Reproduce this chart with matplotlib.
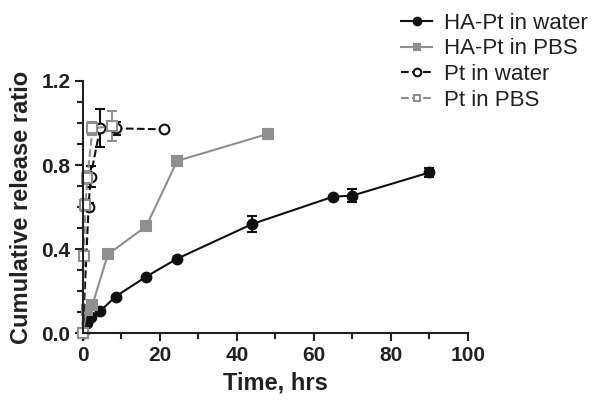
import matplotlib
matplotlib.use("Agg")
import matplotlib.pyplot as plt
from matplotlib.lines import Line2D
from matplotlib.ticker import MultipleLocator

plt.rcParams['font.family'] = ['Liberation Sans', 'DejaVu Sans']

# HA-Pt in water
ha_water_t = [0, 1, 2, 4.5, 8.5, 16.5, 24.5, 44, 65, 70, 90]
ha_water_y = [0.0, 0.05, 0.08, 0.105, 0.175, 0.27, 0.355, 0.52, 0.65, 0.655, 0.765]
ha_water_e = [0, 0, 0, 0, 0, 0, 0, 0.04, 0, 0.03, 0.02]

# HA-Pt in PBS
ha_pbs_t = [0, 1, 2.5, 6.5, 16.5, 24.5, 48]
ha_pbs_y = [0.0, 0.11, 0.135, 0.375, 0.51, 0.82, 0.948]
ha_pbs_e = [0, 0, 0, 0, 0, 0, 0.025]

# Pt in water
pt_water_t = [0, 1.5, 2, 4.5, 8.5, 21]
pt_water_y = [0.0, 0.6, 0.745, 0.975, 0.975, 0.97]
pt_water_e = [0, 0.02, 0.05, 0.09, 0.03, 0]

# Pt in PBS
pt_pbs_t = [0, 0.3, 0.7, 1.2, 2.5, 7.5]
pt_pbs_y = [0.0, 0.37, 0.61, 0.74, 0.975, 0.985]
pt_pbs_e = [0, 0.02, 0.03, 0.03, 0.03, 0.07]

labels = ['HA-Pt in water', 'HA-Pt in PBS', 'Pt in water', 'Pt in PBS']

black = "#111111"
grey = "#8f8f8f"

fig = plt.figure(figsize=(6, 4.09), dpi=100)
ax = fig.add_axes([0.138, 0.185, 0.642, 0.617])

styles = [
    dict(color=black, marker='o', ms=7, mfc=black, ls='-'),
    dict(color=grey, marker='s', ms=6.5, mfc=grey, ls='-'),
    dict(color=black, marker='o', ms=7, mfc='white', ls='--'),
    dict(color=grey, marker='s', ms=6.5, mfc='white', ls='--'),
]
series = [(ha_water_t, ha_water_y, ha_water_e), (ha_pbs_t, ha_pbs_y, ha_pbs_e),
          (pt_water_t, pt_water_y, pt_water_e), (pt_pbs_t, pt_pbs_y, pt_pbs_e)]

for (t, y, e), st in zip(series, styles):
    c = ax.errorbar(t, y, yerr=e, color=st['color'], marker=st['marker'], ms=st['ms'],
                    mfc=st['mfc'], mew=1.5, lw=1.5, ls=st['ls'], capsize=3.5,
                    capthick=1.5, clip_on=False)
    for art in c.lines[0:1] + tuple(c.lines[1]) + tuple(c.lines[2]):
        art.set_clip_on(False)

ax.set_xlim(0, 100)
ax.set_ylim(0, 1.2)
ax.set_xticks([0, 20, 40, 60, 80, 100])
ax.set_yticks([0.0, 0.4, 0.8, 1.2])
ax.set_yticklabels(['0.0', '0.4', '0.8', '1.2'])
ax.xaxis.set_minor_locator(MultipleLocator(10))
ax.yaxis.set_minor_locator(MultipleLocator(0.1))
ax.spines['top'].set_visible(False)
ax.spines['right'].set_visible(False)
for s in ['left', 'bottom']:
    ax.spines[s].set_linewidth(1.5)
    ax.spines[s].set_color('#222222')
ax.tick_params(which='major', length=6, width=1.5, colors='#222222', labelsize=15, pad=3)
ax.tick_params(which='minor', length=4, width=1.5, colors='#222222')
for lab in ax.get_xticklabels() + ax.get_yticklabels():
    lab.set_fontweight('bold')

ax.set_xlabel('Time, hrs', fontsize=17, fontweight='bold', color='#222222', labelpad=5)
ax.set_ylabel('Cumulative release ratio', fontsize=17, fontweight='bold', color='#222222',
              labelpad=6)

handles = [Line2D([], [], color=st['color'], marker=st['marker'], ms=st['ms'] - 1.5,
                  mfc=st['mfc'], mew=1.5, lw=1.5, ls=st['ls']) for st in styles]
leg = fig.legend(handles, labels, loc='upper left', bbox_to_anchor=(0.635, 1.018),
                 frameon=False, fontsize=16, handlelength=1.4, labelspacing=0.21,
                 handletextpad=0.55)
for t in leg.get_texts():
    t.set_color('#222222')

plt.savefig('out.png', dpi=100)
